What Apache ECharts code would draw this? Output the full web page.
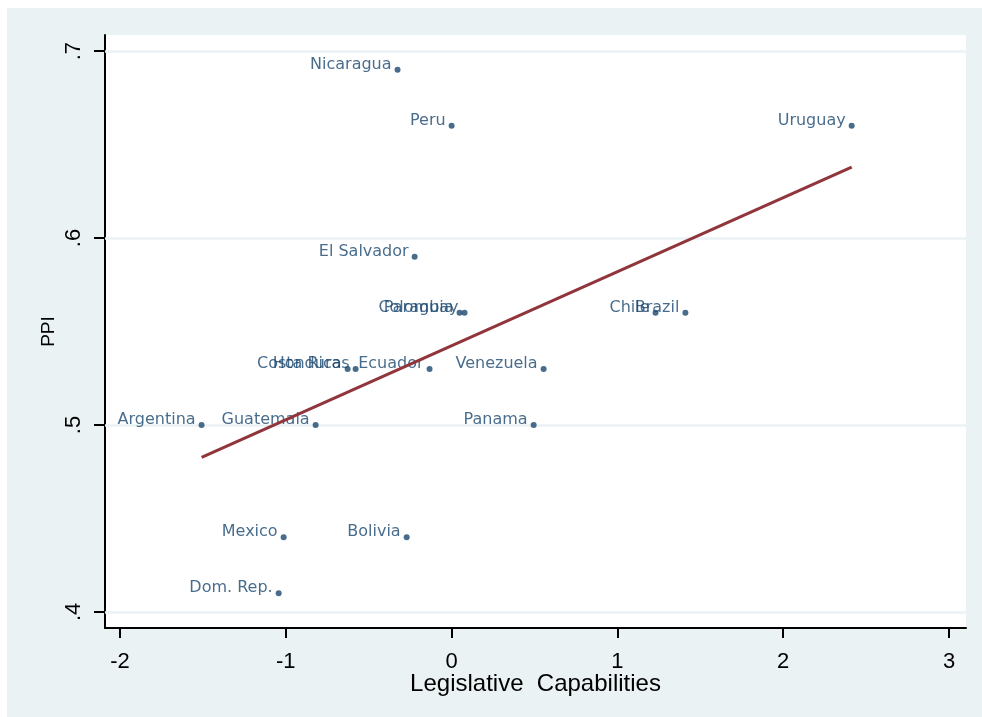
<!DOCTYPE html>
<html>
<head>
<meta charset="utf-8">
<script src="https://cdn.jsdelivr.net/npm/echarts@6/dist/echarts.min.js"></script>
<style>
  html, body { margin: 0; padding: 0; background: #ffffff; }
  #chart { position: absolute; left: 7px; top: 8px; width: 975px; height: 709px; }
</style>
</head>
<body>
<div id="chart"></div>
<script>
// Legislative capabilities vs. policy index (PPI), Latin American countries
const countries = ['Nicaragua', 'Peru', 'Uruguay', 'El Salvador', 'Colombia', 'Paraguay',
  'Chile', 'Brazil', 'Costa Rica', 'Honduras', 'Ecuador', 'Venezuela',
  'Argentina', 'Guatemala', 'Panama', 'Mexico', 'Bolivia', 'Dom. Rep.'];
const capabilities = [-0.326, 0.0, 2.413, -0.223, 0.048, 0.078,
  1.23, 1.41, -0.627, -0.579, -0.133, 0.555,
  -1.508, -0.82, 0.495, -1.013, -0.271, -1.043];
const ppi = [0.69, 0.66, 0.66, 0.59, 0.56, 0.56,
  0.56, 0.56, 0.53, 0.53, 0.53, 0.53,
  0.50, 0.50, 0.50, 0.44, 0.44, 0.41];
const xTicks = [-2, -1, 0, 1, 2, 3];
const yTicks = [0.4, 0.5, 0.6, 0.7];

// Linear fit of PPI on legislative capabilities (least squares)
function linearFit(xs, ys) {
  const n = xs.length;
  const mx = xs.reduce((s, v) => s + v, 0) / n;
  const my = ys.reduce((s, v) => s + v, 0) / n;
  let sxy = 0, sxx = 0;
  for (let i = 0; i < n; i++) {
    sxy += (xs[i] - mx) * (ys[i] - my);
    sxx += (xs[i] - mx) * (xs[i] - mx);
  }
  const b = sxy / sxx;
  const a = my - b * mx;
  const lo = Math.min(...xs), hi = Math.max(...xs);
  return [[lo, a + b * lo], [hi, a + b * hi]];
}

const points = countries.map((c, i) => ({ name: c, value: [capabilities[i], ppi[i]] }));
const fitLine = linearFit(capabilities, ppi);

const markerColor = '#1a476f';
const axisFont = 'Liberation Sans';

const chart = echarts.init(document.getElementById('chart'), null, { renderer: 'canvas' });
chart.setOption({
  backgroundColor: '#eaf2f3',
  animation: false,
  grid: {
    left: 98, top: 27, right: 16, bottom: 89,
    show: true, backgroundColor: '#ffffff', borderWidth: 0
  },
  xAxis: {
    type: 'value',
    min: -2.0905, max: 3.1025,
    name: 'Legislative  Capabilities',
    nameLocation: 'middle',
    nameGap: 44,
    nameMoveOverlap: false,
    nameTextStyle: { fontFamily: axisFont, fontSize: 24, color: '#000' },
    axisLine: { show: true, onZero: false, lineStyle: { color: '#000', width: 2 } },
    axisTick: { show: true, inside: false, length: 10, customValues: xTicks,
      lineStyle: { color: '#000', width: 2 } },
    axisLabel: { show: true, customValues: xTicks, margin: 23,
      fontFamily: axisFont, fontSize: 22, color: '#000',
      formatter: v => String(v) },
    splitLine: { show: false }
  },
  yAxis: {
    type: 'value',
    min: 0.3914, max: 0.7086,
    name: 'PPI',
    nameLocation: 'middle',
    nameRotate: 90,
    nameGap: 47,
    nameMoveOverlap: false,
    nameTextStyle: { fontFamily: axisFont, fontSize: 19, color: '#000' },
    axisLine: { show: true, onZero: false, lineStyle: { color: '#000', width: 2 } },
    axisTick: { show: true, inside: false, length: 11, customValues: yTicks,
      lineStyle: { color: '#000', width: 2 } },
    axisLabel: { show: true, customValues: yTicks, margin: 20, rotate: 90,
      fontFamily: axisFont, fontSize: 22, color: '#000',
      formatter: v => String(v).replace(/^0/, '') },
    splitLine: { show: false }
  },
  series: [
    {
      // horizontal reference lines at the y ticks
      type: 'line',
      data: [],
      z: 1,
      silent: true,
      markLine: {
        z: 1,
        silent: true,
        symbol: ['none', 'none'],
        label: { show: false },
        lineStyle: { color: '#eaf2f3', width: 2.5, type: 'solid' },
        data: yTicks.map(v => ({ yAxis: v }))
      }
    },
    {
      type: 'scatter',
      data: points,
      z: 2,
      symbol: 'circle',
      symbolSize: 6,
      itemStyle: { color: markerColor },
      label: {
        show: true,
        position: [-3, -2],
        align: 'right',
        verticalAlign: 'middle',
        formatter: p => p.name,
        fontFamily: 'DejaVu Sans',
        fontSize: 16,
        color: markerColor
      },
      labelLayout: { hideOverlap: false }
    },
    {
      type: 'line',
      data: fitLine,
      z: 3,
      symbol: 'none',
      lineStyle: { color: '#90353b', width: 3 }
    }
  ]
});
</script>
</body>
</html>
